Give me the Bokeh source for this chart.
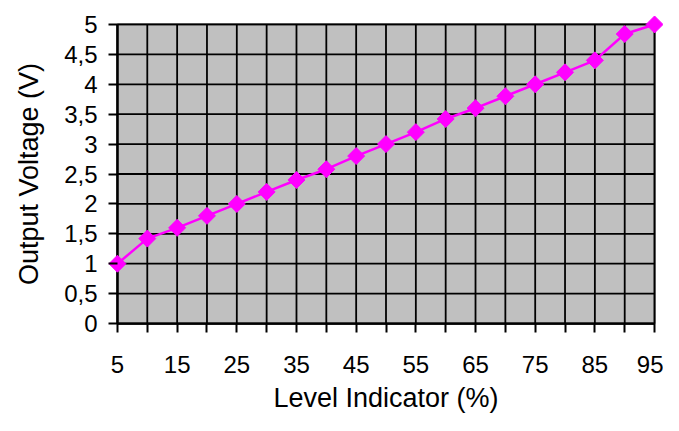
import numpy as np
from bokeh.plotting import figure
from bokeh.models import FixedTicker, Range1d
from bokeh.embed import file_html
from bokeh.resources import INLINE

level = [5, 10, 15, 20, 25, 30, 35, 40, 45, 50, 55, 60, 65, 70, 75, 80, 85, 90, 95]
voltage = [1.0, 1.42, 1.6, 1.8, 2.0, 2.2, 2.4, 2.58, 2.8, 3.0, 3.2, 3.42, 3.6, 3.8, 4.0, 4.2, 4.4, 4.84, 5.0]

x_ticks = [5, 10, 15, 20, 25, 30, 35, 40, 45, 50, 55, 60, 65, 70, 75, 80, 85, 90, 95]
x_tick_labels = ["5", "", "15", "", "25", "", "35", "", "45", "", "55", "", "65", "", "75", "", "85", "", "95"]
y_ticks = [0, 0.5, 1, 1.5, 2, 2.5, 3, 3.5, 4, 4.5, 5]
y_tick_labels = ["0", "0,5", "1", "1,5", "2", "2,5", "3", "3,5", "4", "4,5", "5"]

FONT = "Liberation Sans"
X_PAD = 1.5
Y_PAD = 0.15

x0, x1 = x_ticks[0], x_ticks[-1]
y0, y1 = y_ticks[0], y_ticks[-1]

p = figure(width=663, height=415, output_backend="svg", toolbar_location=None,
           x_range=Range1d(x0 - X_PAD, x1 + X_PAD), y_range=Range1d(y0 - Y_PAD, y1 + Y_PAD),
           min_border_left=108, min_border_right=0, min_border_top=15, min_border_bottom=77)

p.background_fill_color = None
p.border_fill_color = "white"
p.outline_line_color = None

p.xaxis.ticker = FixedTicker(ticks=x_ticks, minor_ticks=[])
p.yaxis.ticker = FixedTicker(ticks=y_ticks, minor_ticks=[])
p.xaxis.major_label_overrides = {t: l for t, l in zip(x_ticks, x_tick_labels)}
p.yaxis.major_label_overrides = {t: l for t, l in zip(y_ticks, y_tick_labels)}

for ax in (p.xaxis, p.yaxis):
    ax.axis_line_color = None
    ax.major_tick_line_color = "black"
    ax.major_tick_line_width = 2
    ax.major_tick_in = 9
    ax.major_tick_out = 0
    ax.minor_tick_line_color = None
    ax.major_label_text_font = FONT
    ax.major_label_text_font_size = "24px"
    ax.major_label_text_color = "black"
    ax.axis_label_text_font = FONT
    ax.axis_label_text_font_size = "27px"
    ax.axis_label_text_font_style = "normal"
    ax.axis_label_text_color = "black"

p.xaxis.axis_label = "Level Indicator (%)"
p.yaxis.axis_label = "Output Voltage (V)"
p.xaxis.major_label_standoff = 23
p.yaxis.major_label_standoff = 11
p.xaxis.axis_label_standoff = 7
p.yaxis.axis_label_standoff = 17

p.xgrid.grid_line_color = None
p.ygrid.grid_line_color = None

# plot area background with grey border
p.quad(left=[x0], right=[x1], bottom=[y0], top=[y1],
       fill_color="#c0c0c0", line_color="#8c8c8c", line_width=2.5)

# grid lines
p.segment(x0=x_ticks, y0=[y0] * len(x_ticks), x1=x_ticks, y1=[y1] * len(x_ticks),
          line_color="black", line_width=1.8)
p.segment(x0=[x0] * len(y_ticks), y0=y_ticks, x1=[x1] * len(y_ticks), y1=y_ticks,
          line_color="black", line_width=1.8)

# axis lines
p.segment(x0=[x0, x0], y0=[y0, y0], x1=[x1, x0], y1=[y0, y1], line_color="black", line_width=2.2)

p.line(level, voltage, line_color="#ff00ff", line_width=2.5)
p.scatter(level, voltage, marker="square", size=12, angle=np.pi / 4,
          fill_color="#ff00ff", line_color="#ff00ff")

open("out.html", "w").write(file_html(p, INLINE))
